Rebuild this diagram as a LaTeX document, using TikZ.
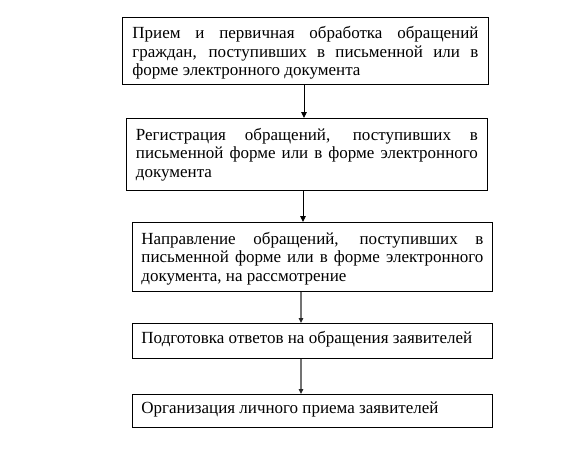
\documentclass[tikz,border=0pt]{standalone}
\usepackage{fontspec}
\setmainfont{Liberation Serif}
\usetikzlibrary{arrows.meta}
\tolerance=10000 \hyphenpenalty=10000
\newcommand\stepcontent[4]{\parbox[c][#2][t]{#1}{\vspace*{#3}\strut #4}}
\tikzset{
  stepbox/.style={draw=black, line width=0.9pt, inner ysep=0pt, anchor=north west,
    font=\fontsize{17pt}{18.5pt}\selectfont},
  arr/.style={line width=0.9pt, -{Triangle[length=6pt,width=5.5pt]}},
  garr/.style={line width=1.6pt, draw=black!55, -{Triangle[length=5pt,width=4.5pt,color=black!85]}}
}
\begin{document}
\begin{tikzpicture}[x=1pt,y=-1pt]
\useasboundingbox (0,0) rectangle (585,467);
\node[stepbox, inner xsep=10pt] (b1) at (122,17)
 {\stepcontent{346pt}{67pt}{8.5pt}{Прием и первичная обработка обращений\linebreak граждан, поступивших в письменной или в\linebreak форме электронного документа}};
\node[stepbox, inner xsep=9.5pt] (b2) at (126,118)
 {\stepcontent{342pt}{72pt}{9pt}{Регистрация обращений, поступивших в\linebreak письменной форме или в форме электронного\linebreak документа}};
\node[stepbox, inner xsep=9pt] (b3) at (132,222)
 {\stepcontent{342pt}{69pt}{8.6pt}{Направление обращений, поступивших в\linebreak письменной форме или в форме электронного\linebreak документа, на рассмотрение}};
\node[stepbox, inner xsep=9pt] (b4) at (132,323)
 {\stepcontent{342pt}{35pt}{7pt}{\raggedright Подготовка ответов на обращения заявителей}};
\node[stepbox, inner xsep=9pt] (b5) at (132,394)
 {\stepcontent{342pt}{33pt}{6pt}{\raggedright Организация личного приема заявителей}};
\coordinate (c1) at (304,0);
\coordinate (c2) at (303,0);
\coordinate (c3) at (301,0);
\draw[arr] (b1.south -| c1) -- (b2.north -| c1);
\draw[arr] (b2.south -| c2) -- (b3.north -| c2);
\draw[garr] (b3.south -| c3) -- (b4.north -| c3);
\draw[garr] (b4.south -| c3) -- (b5.north -| c3);
\end{tikzpicture}
\end{document}
